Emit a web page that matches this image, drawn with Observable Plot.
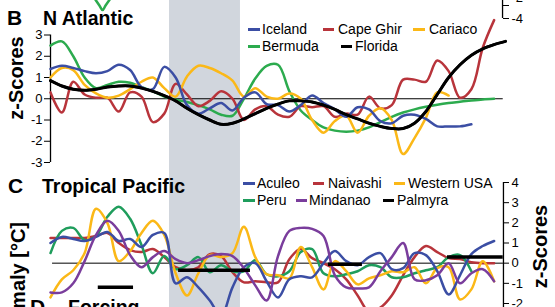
<!DOCTYPE html>
<html><head><meta charset="utf-8">
<script src="https://cdn.jsdelivr.net/npm/d3@7"></script>
<script src="https://cdn.jsdelivr.net/npm/@observablehq/plot@0.6"></script>
<style>
html,body{margin:0;padding:0;background:#fff}
#wrap{position:relative;width:555px;height:307px;overflow:hidden;background:#fff;font-family:"Liberation Sans",Arial,sans-serif}
#wrap svg{position:absolute;left:0;top:0}
</style>
</head><body><div id="wrap"></div>
<script>
// ---- shared time grid (years AD) ----
const years = [0,50,100,150,200,250,300,350,400,450,500,550,600,650,700,750,800,850,900,950,1000,1050,1100,1150,1200,1250,1300,1350,1400,1450,1500,1550,1600,1650,1700,1750,1800,1850,1900,1950,2000];
const bandStart = 523, bandEnd = 835;

// ---- Panel B: N Atlantic (z-scores) ----
const seriesB = ["Iceland","Cape Ghir","Cariaco","Bermuda","Florida"];
const iceland  = [1.4,1.55,1.45,1.3,1.2,1.3,1.6,1.35,0.55,0.45,1.5,1.0,-0.3,-0.7,-0.45,-0.2,-0.55,0.05,0.3,-0.25,-0.3,-0.6,-0.3,0.15,-0.2,-0.5,-0.85,-0.4,-0.5,-1.05,-1.15,-0.8,-0.75,-0.95,-1.3,-1.3,-1.3,-1.2,null,null,null];
const capeGhir = [0.3,-0.65,0.8,0.2,0.05,0.05,-0.6,0.3,0.1,-1.1,-0.7,0.7,0.2,-0.35,-0.1,0.35,0.0,-1.0,-0.5,-0.35,-0.75,-0.85,-0.35,-0.4,-0.35,-0.85,-0.7,-0.75,0.1,-0.45,-0.3,0.9,0.9,0.8,1.8,1.3,0.05,0.45,2.4,3.7,null];
const cariaco  = [1.0,1.45,1.35,0.65,0.25,0.05,0.15,0.45,0.8,1.0,0.5,0.1,1.05,1.55,1.45,1.2,0.85,0.1,0.5,0.1,0.0,0.25,0.0,-1.0,-1.6,-1.05,-0.8,-1.6,-0.8,-0.45,-1.0,-2.6,-1.85,-0.9,0.3,0.15,null,null,null,null,null];
const bermuda  = [2.5,2.7,2.0,1.0,0.5,0.65,0.8,0.75,0.55,0.35,0.1,-0.05,-0.15,-0.3,-0.5,-0.75,-0.8,0.0,0.95,1.55,1.6,0.35,-0.55,-1.0,-1.35,-1.5,-1.55,-1.5,-1.35,-1.1,-0.85,-0.65,-0.5,-0.38,-0.28,-0.2,-0.14,-0.08,-0.03,0.0,null];
const florida  = [0.85,0.6,0.45,0.4,0.45,0.55,0.6,0.6,0.5,0.35,0.15,-0.1,-0.45,-0.75,-1.0,-1.2,-1.15,-0.95,-0.7,-0.45,-0.25,-0.1,-0.1,-0.15,-0.3,-0.5,-0.75,-0.95,-1.15,-1.3,-1.4,-1.4,-1.15,-0.6,0.2,1.0,1.6,2.05,2.35,2.55,2.7];
const ticksB = [-3,-2,-1,0,1,2,3];

// ---- Panel C: Tropical Pacific ----
const seriesC = ["Aculeo","Naivashi","Western USA","Peru","Mindanao","Palmyra"];
const aculeo     = [1.0,1.3,1.2,1.1,1.3,1.55,1.1,1.2,0.8,1.4,1.5,-1.0,-0.7,-1.2,-1.85,-2.6,-1.2,-0.2,0.0,-0.9,-1.7,-0.8,-0.65,-0.7,0.0,0.6,0.1,-0.1,0.3,0.5,-0.3,-0.25,0.5,0.4,-0.4,-1.55,-0.6,0.45,0.85,1.1,null];
const naivashi   = [1.25,1.25,1.25,1.25,1.35,1.5,1.0,0.65,0.55,0.7,0.3,-0.2,-0.35,-0.2,0.45,0.35,-0.45,-0.95,-0.9,-0.95,-0.95,0.2,0.7,0.25,0.0,-0.3,-0.8,-1.6,-2.4,-2.2,-1.6,-0.6,0.3,0.85,0.55,0.25,0.2,0.05,0.0,0.0,null];
const westernUSA = [-1.7,-0.8,-0.35,0.5,2.7,2.0,0.1,0.6,1.5,2.1,1.4,-0.5,-1.6,-0.5,0.4,0.3,0.5,1.8,0.3,-0.55,-0.6,-0.75,0.8,-0.2,-1.3,0.1,-0.4,-1.05,-0.75,-0.6,-0.4,-0.45,-0.2,-1.0,-0.25,-0.2,-1.8,-1.3,0.1,-0.9,null];
const peru       = [0.5,1.6,1.75,1.15,1.35,2.3,2.8,2.2,0.9,-0.5,0.35,-0.3,-0.1,0.3,-0.45,-0.1,-0.4,-0.4,0.15,-0.55,-0.65,-0.4,0.55,0.7,-0.5,-0.65,-0.55,-0.4,-0.1,-0.2,-0.7,-0.7,-0.5,-0.35,-0.2,0.3,0.4,-0.4,null,null,null];
const mindanao   = [-1.45,-1.45,-1.0,0.1,1.4,2.1,1.6,0.4,-0.2,0.3,0.6,0.2,0.0,0.15,0.35,0.45,0.35,-0.25,-1.1,-1.85,0.35,1.6,1.75,1.7,1.35,-0.6,-1.2,-1.25,-1.2,-0.4,0.3,1.0,-0.8,-0.85,-0.6,0.0,-1.0,-0.5,-0.3,-0.9,null];
const palmyraStart = [210,563,1222,1745];
const palmyraEnd   = [365,879,1371,1990];
const palmyraValue = [-1.2,-0.35,-0.05,0.3];
const ticksC = [-2,-1,0,1,2,3,4];

// ---- Panel A fragment (top edge) ----
const aYears  = [185,215,229,242,273];
const aValues = [-0.46,-2.0,-2.7,-2.0,-0.46];
const ticksA = [-4,-2];

const colors = {
  "Iceland":"#3b4ea4","Cape Ghir":"#b8343b","Cariaco":"#fbb817","Bermuda":"#2cab4e","Florida":"#000000",
  "Aculeo":"#3b4ea4","Naivashi":"#b8343b","Western USA":"#fbb817","Peru":"#1f9d5c","Mindanao":"#7a3d9c","Palmyra":"#000000"
};

function rows(name, vals){
  return years.map((yr,i)=>({year:yr, value:vals[i], series:name})).filter(d=>d.value!=null);
}

const X = {domain:[0,2000], range:[50,505], axis:null};
const baseStyle = {background:"transparent", overflow:"visible", fontFamily:"'Liberation Sans',Arial,sans-serif", fontSize:"13px", color:"#000"};
const wrap = document.getElementById("wrap");

// background band
wrap.appendChild(Plot.plot({
  width:555, height:307, margin:0, x:X, style:baseStyle,
  marks:[Plot.rect([{start:bandStart,end:bandEnd}], {x1:"start", x2:"end", fill:"#d1d6dd"})]
}));

// panel A fragment
wrap.appendChild(Plot.plot({
  width:555, height:307, marginLeft:50, marginRight:53, marginTop:5, marginBottom:289,
  x:X, y:{domain:[-4,-2]}, style:baseStyle,
  marks:[
    Plot.ruleX([1987], {y1:-4, y2:-0.5, stroke:"#000", strokeWidth:1.3}),
    Plot.axisY({anchor:"right", ticks:[ticksA[0]], tickSize:6, tickPadding:3, tickFormat:d=>String(d), label:null, fontSize:13}),
    Plot.axisY({anchor:"right", ticks:[ticksA[1]], tickSize:6, tickPadding:3, tickFormat:d=>String(d), label:null, fontSize:13, text:null}),
    Plot.axisY({anchor:"right", ticks:[ticksA[1]], tickSize:0, tickPadding:9, tickFormat:d=>String(d), label:null, fontSize:13, dy:-8}),
    Plot.line(aYears.map((yr,i)=>({year:yr, value:aValues[i]})), {x:"year", y:"value", stroke:"#2cab4e", strokeWidth:2.5, curve:"catmull-rom"})
  ]
}));

// panel B
const dataB = [].concat(rows("Bermuda",bermuda), rows("Cape Ghir",capeGhir), rows("Cariaco",cariaco), rows("Iceland",iceland), rows("Florida",florida));
wrap.appendChild(Plot.plot({
  width:555, height:307, marginLeft:50, marginRight:50, marginTop:34.5, marginBottom:145,
  x:X, y:{domain:[-3,3]}, style:baseStyle,
  color:{domain:seriesB, range:seriesB.map(s=>colors[s])},
  marks:[
    Plot.ruleY([0], {x1:0, x2:1990, stroke:"#000", strokeWidth:1}),
    Plot.ruleX([0], {y1:-3, y2:3, stroke:"#000", strokeWidth:1.3}),
    Plot.axisY({anchor:"left", ticks:ticksB, tickSize:6, tickPadding:2, tickFormat:d=>String(d), label:null, fontSize:13}),
    Plot.line(dataB, {x:"year", y:"value", z:"series", stroke:"series", strokeWidth:2.5, curve:"catmull-rom"}),
    Plot.line(dataB.filter(d=>d.series==="Florida"), {x:"year", y:"value", stroke:"#000", strokeWidth:3, curve:"catmull-rom"})
  ]
}));

// panel C
const dataC = [].concat(rows("Naivashi",naivashi), rows("Peru",peru), rows("Western USA",westernUSA), rows("Aculeo",aculeo), rows("Mindanao",mindanao));
const palmyra = palmyraStart.map((s,i)=>({start:s, end:palmyraEnd[i], value:palmyraValue[i]}));
wrap.appendChild(Plot.plot({
  width:555, height:307, marginLeft:50, marginRight:52, marginTop:182, marginBottom:4,
  x:X, y:{domain:[-2,4]}, style:baseStyle,
  color:{domain:seriesC, range:seriesC.map(s=>colors[s])},
  marks:[
    Plot.ruleY([0], {x1:9, x2:1991, stroke:"#000", strokeWidth:1}),
    Plot.ruleX([1991], {y1:-2.4, y2:4, stroke:"#000", strokeWidth:1.3}),
    Plot.axisY({anchor:"right", ticks:ticksC, tickSize:5, tickPadding:3, tickFormat:d=>String(d), label:null, fontSize:13}),
    Plot.line(dataC, {x:"year", y:"value", z:"series", stroke:"series", strokeWidth:2.5, curve:"catmull-rom"}),
    Plot.ruleY(palmyra, {y:"value", x1:"start", x2:"end", stroke:"#000", strokeWidth:3.5})
  ]
}));

// text overlay: titles, legends, axis labels
const svg = d3.select(wrap).append("svg").attr("width",555).attr("height",307)
  .style("font-family","'Liberation Sans',Arial,sans-serif");
function txt(x,y,s,size,bold,anchor,rot){
  const t = svg.append("text").text(s).attr("font-size",size).attr("fill","#000")
    .attr("font-weight",bold?"bold":"normal").attr("text-anchor",anchor||"start");
  if(rot) t.attr("transform",`translate(${x},${y}) rotate(-90)`); else t.attr("x",x).attr("y",y);
}
function legend(items){
  items.forEach(([name,sx,sw,ty,tx])=>{
    svg.append("line").attr("x1",sx).attr("x2",sx+sw).attr("y1",ty-4.5).attr("y2",ty-4.5)
      .attr("stroke",colors[name]).attr("stroke-width",3);
    txt(tx,ty,name,14,false);
  });
}
txt(7,25,"B",21,true); txt(43,25,"N Atlantic",19.5,true);
txt(23,78,"z-Scores",20,true,"middle",true);
legend([["Iceland",248,12,34,262],["Cape Ghir",323,11,34,338],["Cariaco",413,12,34,429],
        ["Bermuda",248,12,51,262],["Florida",341,11,51,355]]);
txt(8,193,"C",21,true); txt(42,193,"Tropical Pacific",19.5,true);
txt(547,246.5,"z-Scores",20,true,"middle",true);
txt(25,222,"Anomaly [°C]",20,true,"end",true);
legend([["Aculeo",243,12,188,257],["Naivashi",313,11,188,328],["Western USA",394,11,188,408],
        ["Peru",243,12,205,257],["Mindanao",296,11,205,309],["Palmyra",383,11,205,397]]);
txt(30,314,"D",21,true); txt(68,314,"Forcing",19.5,true);
</script></body></html>
